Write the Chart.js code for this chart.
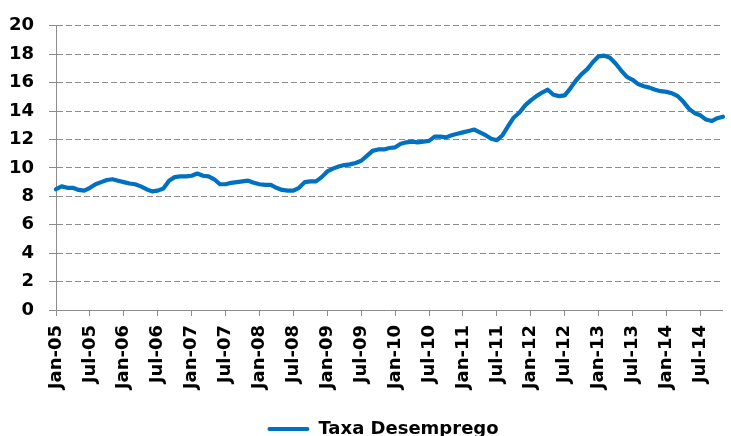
<!DOCTYPE html>
<html>
<head>
<meta charset="utf-8">
<script src="https://cdn.jsdelivr.net/npm/chart.js@4/dist/chart.umd.min.js"></script>
<style>
  html, body { margin: 0; padding: 0; background: #ffffff; }
  #wrap { width: 731px; height: 436px; position: relative; }
</style>
</head>
<body>
<div id="wrap"><canvas id="c" width="731" height="436"></canvas></div>
<script>
const monthNames = ['Jan','Feb','Mar','Apr','May','Jun','Jul','Aug','Sep','Oct','Nov','Dec'];
const yearSuffixes = ['05','06','07','08','09','10','11','12','13','14'];

const rate2005 = [8.5, 8.7, 8.6, 8.6, 8.45, 8.4, 8.6, 8.85, 9.0, 9.15, 9.2, 9.1];
const rate2006 = [9.0, 8.9, 8.85, 8.7, 8.5, 8.35, 8.4, 8.55, 9.1, 9.35, 9.4, 9.4];
const rate2007 = [9.45, 9.6, 9.45, 9.4, 9.2, 8.85, 8.85, 8.95, 9.0, 9.05, 9.1, 8.95];
const rate2008 = [8.85, 8.8, 8.8, 8.6, 8.45, 8.4, 8.4, 8.6, 9.0, 9.05, 9.05, 9.35];
const rate2009 = [9.75, 9.95, 10.1, 10.2, 10.25, 10.35, 10.5, 10.85, 11.2, 11.3, 11.3, 11.4];
const rate2010 = [11.45, 11.7, 11.8, 11.85, 11.8, 11.85, 11.9, 12.2, 12.2, 12.15, 12.3, 12.4];
const rate2011 = [12.5, 12.6, 12.7, 12.5, 12.3, 12.05, 11.95, 12.3, 12.95, 13.55, 13.9, 14.4];
const rate2012 = [14.75, 15.05, 15.3, 15.5, 15.15, 15.05, 15.1, 15.6, 16.15, 16.6, 16.95, 17.45];
const rate2013 = [17.85, 17.9, 17.75, 17.35, 16.85, 16.4, 16.2, 15.9, 15.75, 15.65, 15.5, 15.4];
const rate2014 = [15.35, 15.25, 15.05, 14.65, 14.15, 13.85, 13.7, 13.4, 13.3, 13.5, 13.6];

const seriesName = 'Taxa Desemprego';
const yMin = 0, yMax = 20, yStep = 2;

const rateValues = [].concat(rate2005, rate2006, rate2007, rate2008, rate2009,
                             rate2010, rate2011, rate2012, rate2013, rate2014);
const categories = [];
yearSuffixes.forEach(y => monthNames.forEach(m => categories.push(m + '-' + y)));
categories.length = rateValues.length;

const FONT = { family: '"DejaVu Sans", Verdana, sans-serif', size: 18, weight: 'bold' };
const GRID_GRAY = '#8c8c8c';
const BLUE = '#0070C0';

const legendShift = {
  id: 'legendShift',
  afterLayout(chart) {
    if (chart.legend) { chart.legend.left += 36; }
  }
};

new Chart(document.getElementById('c'), {
  type: 'line',
  data: {
    labels: categories,
    datasets: [{
      label: seriesName,
      data: rateValues,
      borderColor: BLUE,
      backgroundColor: BLUE,
      borderWidth: 4.2,
      pointRadius: 0,
      tension: 0,
      borderJoinStyle: 'round',
      borderCapStyle: 'round',
      fill: false
    }]
  },
  plugins: [legendShift],
  options: {
    responsive: false,
    animation: false,
    devicePixelRatio: 1,
    layout: { padding: { left: 0, right: 1, top: 24, bottom: 0 } },
    plugins: {
      tooltip: { enabled: false },
      legend: {
        display: true,
        position: 'bottom',
        maxHeight: 22,
        labels: {
          color: '#000',
          font: FONT,
          boxWidth: 42,
          boxHeight: 4,
          padding: 6,
          generateLabels: (chart) => {
            const items = Chart.defaults.plugins.legend.labels.generateLabels(chart);
            items.forEach(it => { it.lineWidth = 0; it.fillStyle = BLUE; it.borderRadius = 2; });
            return items;
          }
        }
      }
    },
    scales: {
      x: {
        type: 'category',
        offset: false,
        afterFit: (s) => { s.height = 104; },
        grid: {
          display: true,
          drawOnChartArea: false,
          drawTicks: true,
          tickLength: 6,
          tickColor: GRID_GRAY,
          tickWidth: 1,
          offset: false
        },
        border: { display: true, color: GRID_GRAY, width: 1 },
        ticks: {
          autoSkip: false,
          maxRotation: 90,
          minRotation: 90,
          padding: 9,
          color: '#000',
          font: FONT,
          callback: function(value, index) {
            return index % 6 === 0 ? categories[index] : null;
          }
        }
      },
      y: {
        min: yMin,
        max: yMax,
        afterFit: (s) => { s.width = 56; },
        grid: {
          color: GRID_GRAY,
          lineWidth: 1,
          drawTicks: true,
          tickLength: 7,
          tickColor: GRID_GRAY,
          tickBorderDash: []
        },
        border: { display: true, color: GRID_GRAY, width: 1, dash: [6, 3] },
        ticks: {
          stepSize: yStep,
          autoSkip: false,
          padding: 15,
          color: '#000',
          font: FONT,
          callback: (v) => String(v)
        }
      }
    }
  }
});
</script>
</body>
</html>
